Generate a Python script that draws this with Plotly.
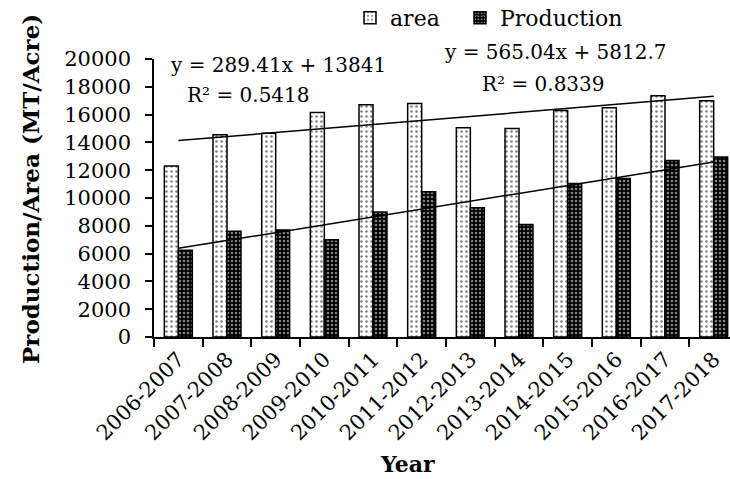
import plotly.graph_objects as go

years = ["2006-2007", "2007-2008", "2008-2009", "2009-2010", "2010-2011", "2011-2012",
         "2012-2013", "2013-2014", "2014-2015", "2015-2016", "2016-2017", "2017-2018"]
area = [12300, 14550, 14650, 16150, 16700, 16800, 15050, 15000, 16300, 16500, 17350, 17000]
production = [6250, 7600, 7700, 7000, 9000, 10450, 9300, 8100, 11050, 11400, 12700, 12950]

# linear trend equations shown on the chart (x = 1..12)
area_slope, area_intercept = 289.41, 13841
prod_slope, prod_intercept = 565.04, 5812.7
area_eq = "y = 289.41x + 13841"
area_r2 = "R² = 0.5418"
prod_eq = "y = 565.04x + 5812.7"
prod_r2 = "R² = 0.8339"

FONT = "DejaVu Serif"

W, H = 730, 479
L, R, T, B = 154, 0, 59, 142
PW, PH = W - L - R, H - T - B


def px(x):
    return (x - L) / PW


def py(y):
    return (H - B - y) / PH


fig = go.Figure()
fig.add_trace(go.Bar(
    x=years, y=area, name="area", legend="legend",
    marker=dict(color="white", line=dict(color="black", width=1.5),
                pattern=dict(shape=".", fgcolor="black", bgcolor="white", size=5, solidity=0.2)),
))
fig.add_trace(go.Bar(
    x=years, y=production, name="Production", legend="legend2",
    marker=dict(color="black", line=dict(color="black", width=1.5),
                pattern=dict(shape=".", fgcolor="white", bgcolor="black", size=4, solidity=0.35)),
))

idx = list(range(1, len(years) + 1))
fig.add_trace(go.Scatter(x=years, y=[area_slope * i + area_intercept for i in idx],
                         mode="lines", line=dict(color="black", width=1.5), showlegend=False,
                         hoverinfo="skip"))
fig.add_trace(go.Scatter(x=years, y=[prod_slope * i + prod_intercept for i in idx],
                         mode="lines", line=dict(color="black", width=1.5), showlegend=False,
                         hoverinfo="skip"))

n = len(years)
ann = []
eqfont = dict(family=FONT, size=20, color="black")
ann.append(dict(x=px(168), y=py(65), xref="paper", yref="paper", text=area_eq, showarrow=False,
                xanchor="left", yanchor="middle", font=eqfont))
ann.append(dict(x=px(185), y=py(95), xref="paper", yref="paper", text=area_r2, showarrow=False,
                xanchor="left", yanchor="middle", font=eqfont))
ann.append(dict(x=px(442), y=py(52), xref="paper", yref="paper", text=prod_eq, showarrow=False,
                xanchor="left", yanchor="middle", font=eqfont))
ann.append(dict(x=px(480), y=py(84), xref="paper", yref="paper", text=prod_r2, showarrow=False,
                xanchor="left", yanchor="middle", font=eqfont))
ann.append(dict(x=px(407), y=py(464), xref="paper", yref="paper", text="<b>Year</b>", showarrow=False,
                xanchor="center", yanchor="middle", font=dict(family=FONT, size=22, color="black")))
ann.append(dict(x=px(30), y=py(189), xref="paper", yref="paper", text="<b>Production/Area (MT/Acre)</b>",
                showarrow=False, textangle=-90, xanchor="center", yanchor="middle",
                font=dict(family=FONT, size=23, color="black")))

legfont = dict(family=FONT, size=22, color="black")
fig.update_layout(
    width=W, height=H,
    margin=dict(l=L, r=R, t=T, b=B, pad=0, autoexpand=False),
    plot_bgcolor="white", paper_bgcolor="white",
    barmode="group", bargap=0.425, bargroupgap=0,
    font=dict(family=FONT, size=20, color="black"),
    showlegend=True,
    legend=dict(orientation="h", x=350 / W, y=1 - 18 / H, xref="container", yref="container",
                xanchor="left", yanchor="middle", font=legfont, bgcolor="rgba(0,0,0,0)",
                itemwidth=30),
    legend2=dict(orientation="h", x=460 / W, y=1 - 18 / H, xref="container", yref="container",
                 xanchor="left", yanchor="middle", font=legfont, bgcolor="rgba(0,0,0,0)",
                 itemwidth=30),
    annotations=ann,
    xaxis=dict(type="category", range=[-0.5, n - 0.5 - 8 / 48.67], showgrid=False, automargin=False,
               showline=True, linecolor="black", linewidth=1.5, ticks="outside", ticklen=8,
               tickcolor="black", tickwidth=1.5, tickson="boundaries", tickangle=-45,
               tickfont=dict(family=FONT, size=21, color="black")),
    yaxis=dict(range=[0, 20000], dtick=2000, tickformat="d", showgrid=False, zeroline=False,
               automargin=False,
               showline=True, linecolor="black", linewidth=1.5, ticks="outside", ticklen=7,
               tickcolor="black", tickwidth=1.5, ticklabelstandoff=10,
               tickfont=dict(family=FONT, size=21, color="black")),
)

fig.write_html("out.html", config={"displayModeBar": False},
               post_script="document.body.style.margin='0';document.body.style.padding='0';"
                           "document.body.style.overflow='hidden';")
